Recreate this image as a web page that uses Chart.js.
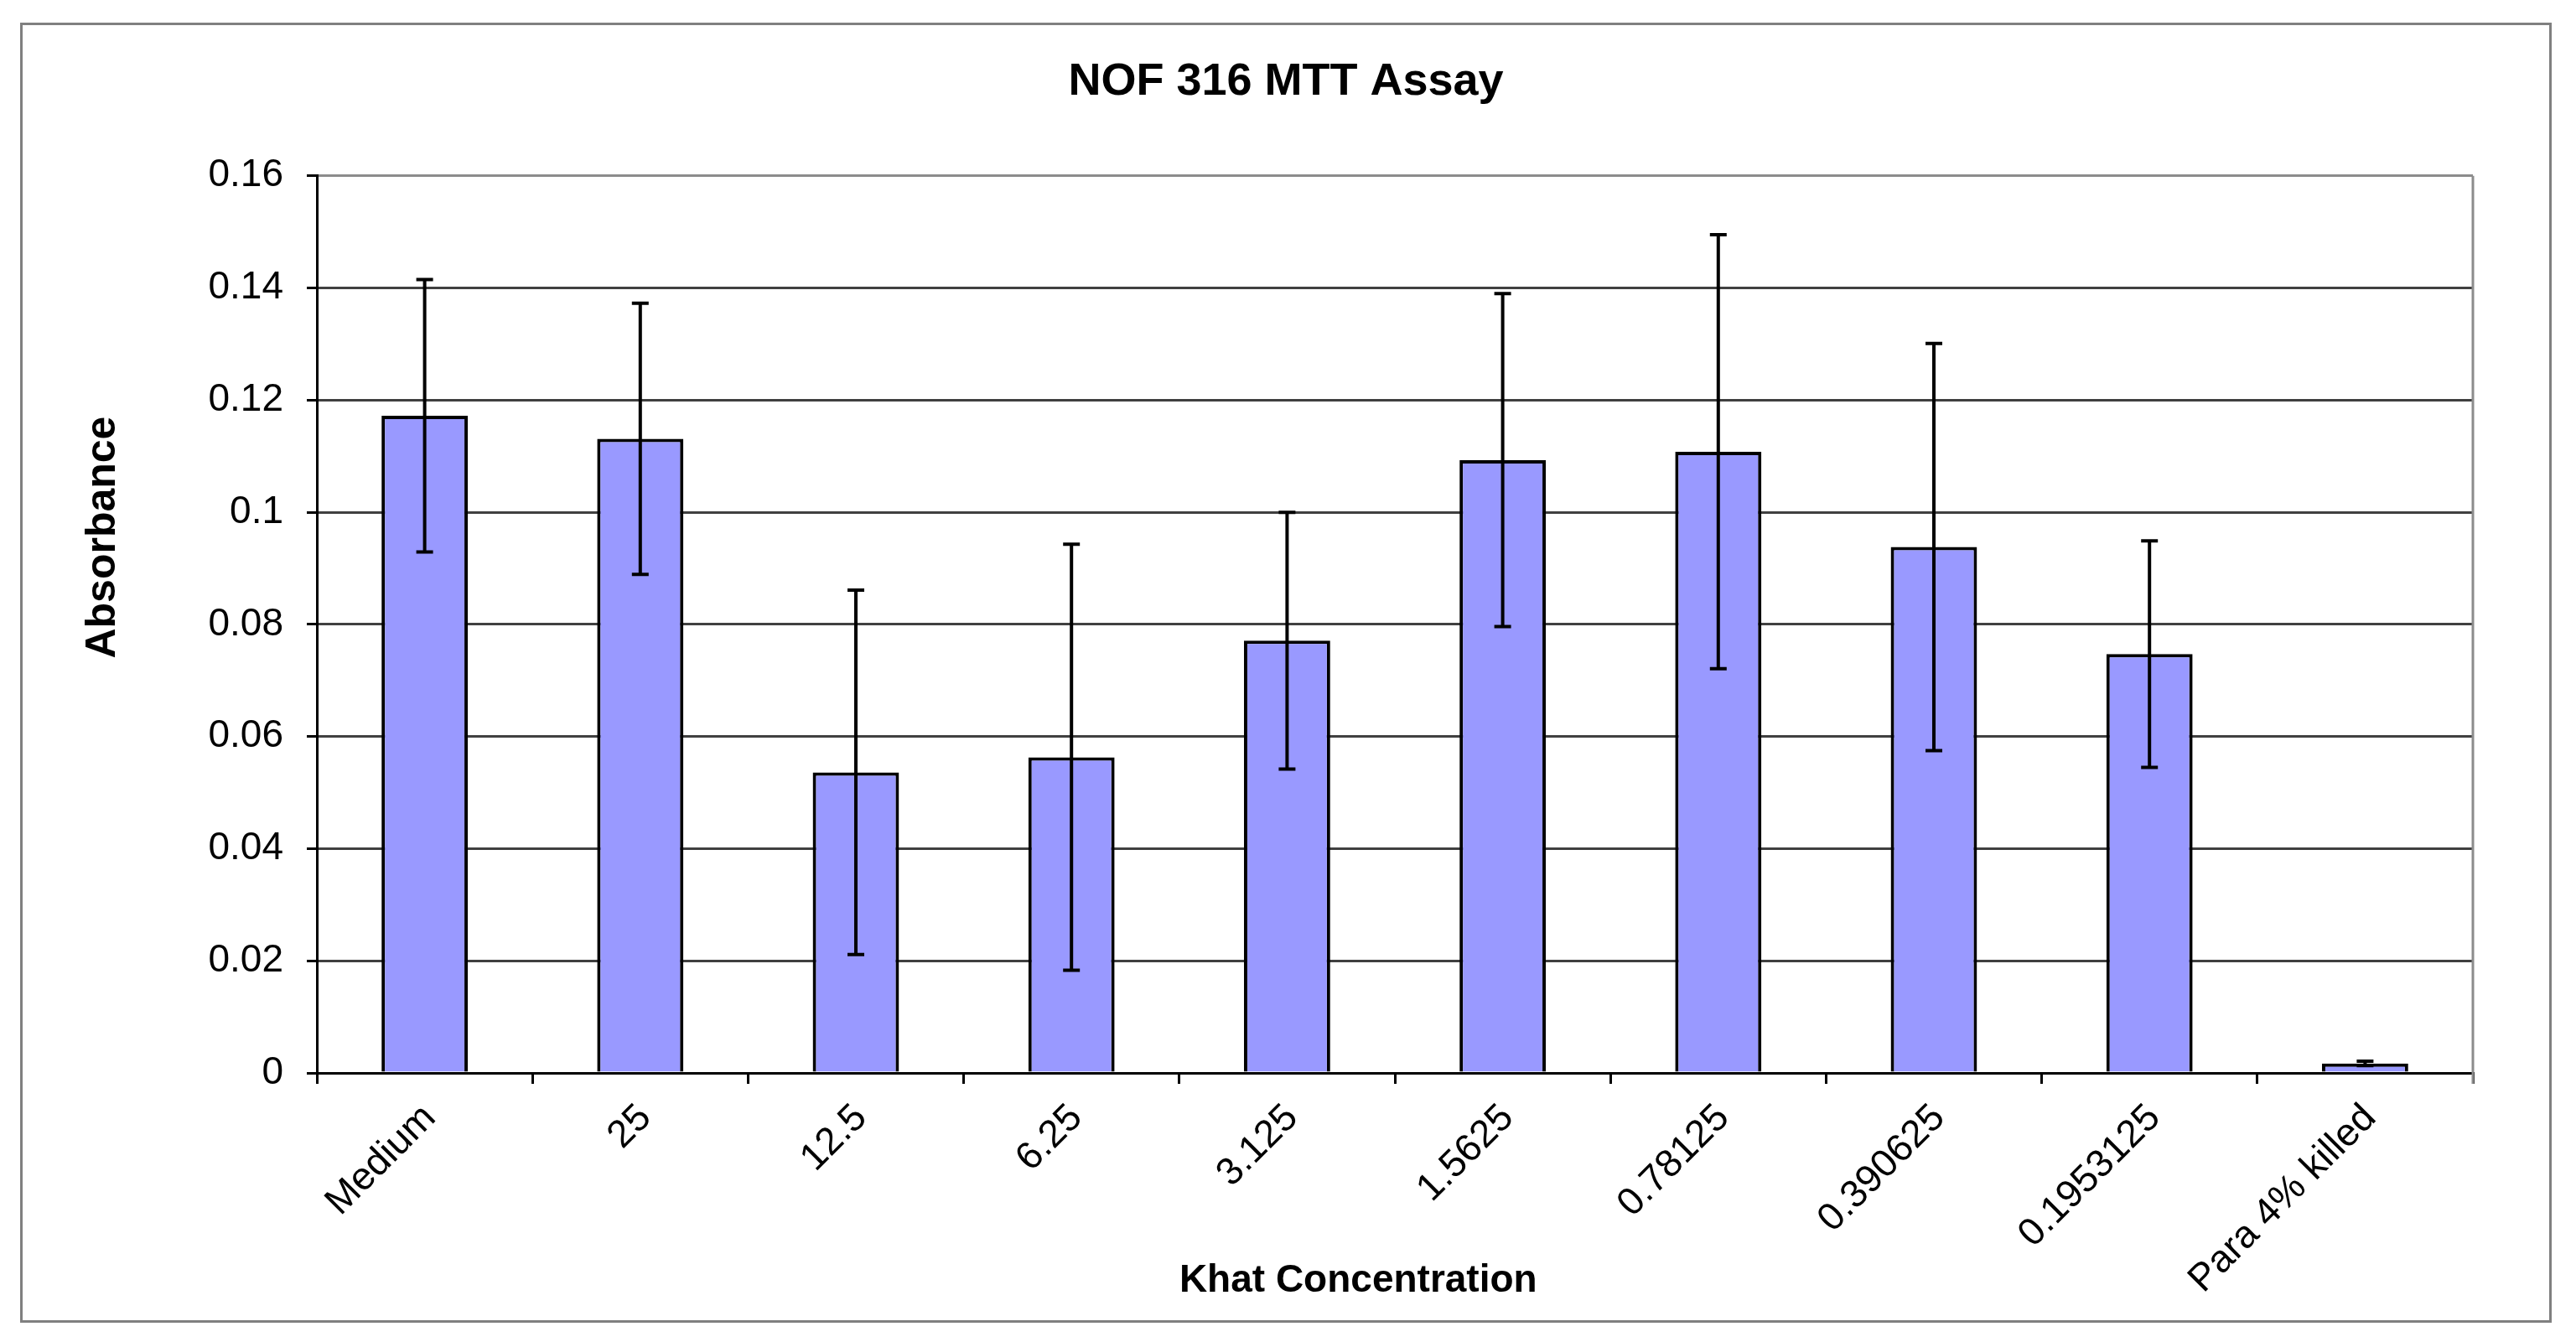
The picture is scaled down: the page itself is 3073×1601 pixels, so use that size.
<!DOCTYPE html>
<html lang="en">
<head>
  <meta charset="UTF-8">
  <title>NOF 316 MTT Assay</title>
  <style>
    body { margin: 0; background: #fff; }
    /* outer chart frame, like the Excel chart border */
    #frame {
      position: absolute;
      left: 24px;
      top: 27px;
      width: 3014px;
      height: 1545px;
      border: 3px solid #808080;
    }
    canvas { display: block; }
  </style>
  <script src="https://cdn.jsdelivr.net/npm/chart.js"></script>
</head>
<body>
  <div id="frame"><canvas id="mttChart" width="3014" height="1545"></canvas></div>

  <script>
    // Khat concentrations on the x axis
    const concentrations = ['Medium', '25', '12.5', '6.25', '3.125', '1.5625', '0.78125', '0.390625', '0.1953125', 'Para 4% killed'];
    // Mean absorbance per concentration
    const absorbance = [0.1172, 0.1131, 0.0536, 0.0563, 0.0771, 0.1093, 0.1108, 0.0938, 0.0747, 0.0017];
    // Error bar half-lengths (symmetric)
    const errors = [0.0243, 0.0242, 0.0325, 0.0380, 0.0229, 0.0297, 0.0387, 0.0363, 0.0202, 0.0004];
    // Y axis tick values
    const yTicks = [0, 0.02, 0.04, 0.06, 0.08, 0.1, 0.12, 0.14, 0.16];

    const family = "'Liberation Sans', Arial, sans-serif";

    // Draw error bars from the bar positions and the y scale
    const errorBars = {
      id: 'errorBars',
      afterDatasetsDraw(chart) {
        const { ctx, scales: { y } } = chart;
        const bars = chart.getDatasetMeta(0).data;
        ctx.save();
        ctx.strokeStyle = '#000';
        ctx.lineWidth = 4;
        bars.forEach((bar, i) => {
          const top = y.getPixelForValue(absorbance[i] + errors[i]);
          const bottom = y.getPixelForValue(absorbance[i] - errors[i]);
          ctx.beginPath();
          ctx.moveTo(bar.x, top);
          ctx.lineTo(bar.x, bottom);
          ctx.moveTo(bar.x - 10, top);
          ctx.lineTo(bar.x + 10, top);
          ctx.moveTo(bar.x - 10, bottom);
          ctx.lineTo(bar.x + 10, bottom);
          ctx.stroke();
        });
        ctx.restore();
      }
    };

    // Grey right edge of the plot area plus the two axis titles
    const plotExtras = {
      id: 'plotExtras',
      beforeDatasetsDraw(chart) {
        const { ctx, chartArea: a } = chart;
        ctx.save();
        ctx.strokeStyle = '#8c8c8c';
        ctx.lineWidth = 3;
        ctx.beginPath();
        ctx.moveTo(a.right, a.top);
        ctx.lineTo(a.right, a.bottom + 13);
        ctx.stroke();
        ctx.restore();
      },
      afterDraw(chart) {
        const { ctx, chartArea: a } = chart;
        ctx.save();
        ctx.fillStyle = '#000';
        ctx.textAlign = 'center';
        ctx.textBaseline = 'middle';
        ctx.font = 'bold 50px ' + family;
        ctx.translate(96, a.top + 0.403 * (a.bottom - a.top));
        ctx.rotate(-Math.PI / 2);
        ctx.fillText('Absorbance', 0, 0);
        ctx.restore();

        ctx.save();
        ctx.fillStyle = '#000';
        ctx.textAlign = 'center';
        ctx.textBaseline = 'middle';
        ctx.font = 'bold 46px ' + family;
        ctx.fillText('Khat Concentration', a.left + 0.483 * (a.right - a.left), chart.height - 47);
        ctx.restore();
      }
    };

    new Chart(document.getElementById('mttChart'), {
      type: 'bar',
      data: {
        labels: concentrations,
        datasets: [{
          label: 'Absorbance',
          data: absorbance,
          backgroundColor: '#9999ff',
          borderColor: '#000',
          borderWidth: 4,
          categoryPercentage: 1,
          barPercentage: 0.4
        }]
      },
      options: {
        responsive: false,
        animation: false,
        devicePixelRatio: 1,
        layout: { padding: 0 },
        plugins: {
          legend: { display: false },
          tooltip: { enabled: false },
          title: {
            display: true,
            text: 'NOF 316 MTT Assay',
            color: '#000',
            font: { family: family, size: 54, weight: 'bold', lineHeight: 1.2 },
            padding: { top: 36, bottom: 79 }
          }
        },
        scales: {
          x: {
            offset: true,
            grid: {
              display: true,
              drawOnChartArea: false,
              drawTicks: true,
              tickLength: 13,
              tickColor: '#000',
              lineWidth: 3,
              offset: true
            },
            border: { color: '#000', width: 3 },
            ticks: {
              color: '#000',
              font: { family: family, size: 46 },
              maxRotation: 45,
              minRotation: 45,
              autoSkip: false,
              padding: 14,
              labelOffset: 6
            },
            afterFit: scale => { scale.height = 295; }
          },
          y: {
            min: 0,
            max: 0.16,
            afterBuildTicks: scale => { scale.ticks = yTicks.map(v => ({ value: v })); },
            ticks: {
              color: '#000',
              font: { family: family, size: 46 },
              padding: 28,
              callback: v => String(v)
            },
            grid: {
              color: c => (c.tick && c.tick.value === 0.16 ? '#8c8c8c' : '#404040'),
              lineWidth: 3,
              tickLength: 12,
              tickColor: '#000'
            },
            border: { color: '#000', width: 3 },
            afterFit: scale => { scale.width = 351; }
          },
          // empty axis that only reserves the right margin
          spacer: {
            position: 'right',
            grid: { display: false },
            ticks: { display: false },
            border: { display: false },
            afterFit: scale => { scale.width = 91; }
          }
        }
      },
      plugins: [errorBars, plotExtras]
    });
  </script>
</body>
</html>
